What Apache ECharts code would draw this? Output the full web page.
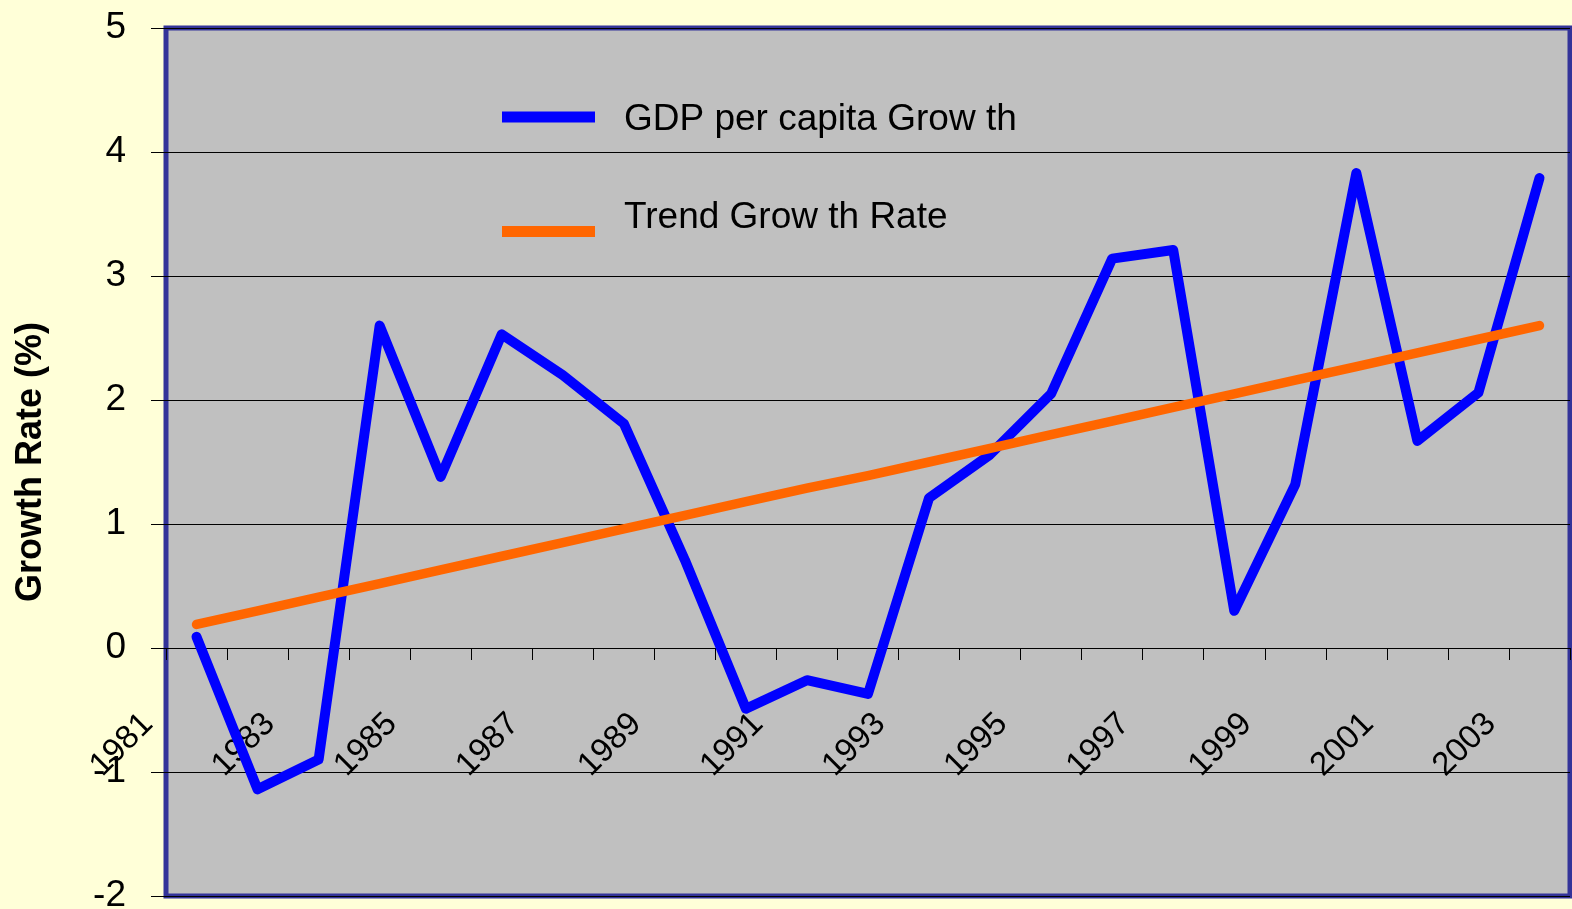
<!DOCTYPE html>
<html>
<head>
<meta charset="utf-8">
<script src="https://cdn.jsdelivr.net/npm/echarts@6/dist/echarts.min.js"></script>
<style>
html,body{margin:0;padding:0;background:#FFFFD8;}
#chart{width:1572px;height:909px;}
</style>
</head>
<body>
<div id="chart"></div>
<script>
var years = ['1981','1982','1983','1984','1985','1986','1987','1988','1989','1990','1991','1992','1993','1994','1995','1996','1997','1998','1999','2000','2001','2002','2003'];
var gdpGrowth = [0.09,-1.14,-0.90,2.60,1.38,2.53,2.20,1.81,0.71,-0.49,-0.26,-0.37,1.21,1.56,2.05,3.14,3.21,0.30,1.32,3.83,1.67,2.06,3.79];
var trendGrowth = [0.19,0.30,0.41,0.52,0.63,0.74,0.85,0.96,1.07,1.18,1.29,1.39,1.50,1.61,1.72,1.83,1.94,2.05,2.16,2.27,2.38,2.49,2.60];
var yTicks = {min: -2, max: 5, interval: 1};
var seriesNames = ['GDP per capita Grow th', 'Trend Grow th Rate'];

var chart = echarts.init(document.getElementById('chart'));
var font = "'Liberation Sans', Arial, sans-serif";
var gridTop = 28, gridBottom = 13, H = 909;
var plotH = H - gridTop - gridBottom;
// distance from bottom edge of plot up to the value 0
var zeroOffset = plotH * (0 - yTicks.min) / (yTicks.max - yTicks.min);
chart.setOption({
  animation: false,
  backgroundColor: '#FFFFD8',
  grid: {
    left: 166, right: 2, top: gridTop, bottom: gridBottom,
    containLabel: false, outerBoundsMode: 'none',
    show: true, backgroundColor: '#C0C0C0',
    borderColor: '#333399', borderWidth: 5
  },
  legend: [
    {
      data: [seriesNames[0]], left: 502, top: 101.5, padding: 0,
      orient: 'vertical', selectedMode: false,
      icon: 'path://M0,17M0,0L93,0L93,11L0,11Z', itemWidth: 93, itemHeight: 17,
      textStyle: {fontFamily: font, fontSize: 37, color: '#000', padding: [0, 0, 0, 24]}
    },
    {
      data: [seriesNames[1]], left: 502, top: 198, padding: 0,
      orient: 'vertical', selectedMode: false,
      icon: 'path://M0,0M0,28L93,28L93,39L0,39Z', itemWidth: 93, itemHeight: 39,
      textStyle: {fontFamily: font, fontSize: 37, color: '#000', padding: [0, 0, 0, 24]}
    }
  ],
  xAxis: {
    type: 'category',
    data: years,
    boundaryGap: true,
    offset: -zeroOffset,
    axisLine: {show: true, onZero: false, lineStyle: {color: '#000', width: 1}},
    axisTick: {show: true, interval: 0, length: 12, lineStyle: {color: '#000', width: 1}},
    axisLabel: {
      interval: 1, rotate: 45, margin: 22,
      fontFamily: font, fontSize: 33, color: '#000',
      padding: [0, 69, 0, 0]
    },
    splitLine: {show: false}
  },
  yAxis: {
    type: 'value',
    min: yTicks.min, max: yTicks.max, interval: yTicks.interval,
    name: 'Growth Rate (%)',
    nameLocation: 'middle', nameRotate: 90, nameGap: 117,
    nameTextStyle: {fontFamily: font, fontSize: 36, fontWeight: 'bold', color: '#000', padding: [0, 0, 0, 0]},
    axisLine: {show: false},
    axisTick: {show: true, length: 15, lineStyle: {color: '#000', width: 1}},
    axisLabel: {margin: 40, fontFamily: font, fontSize: 37, color: '#000'},
    splitLine: {show: true, lineStyle: {color: '#000', width: 1}}
  },
  series: [
    {
      name: seriesNames[0], type: 'line', data: gdpGrowth,
      symbol: 'none', color: '#0000FF',
      lineStyle: {color: '#0000FF', width: 10, cap: 'round', join: 'round'}
    },
    {
      name: seriesNames[1], type: 'line', data: trendGrowth,
      symbol: 'none', color: '#FF6600',
      lineStyle: {color: '#FF6600', width: 9.5, cap: 'round', join: 'round'}
    }
  ]
});
</script>
</body>
</html>
